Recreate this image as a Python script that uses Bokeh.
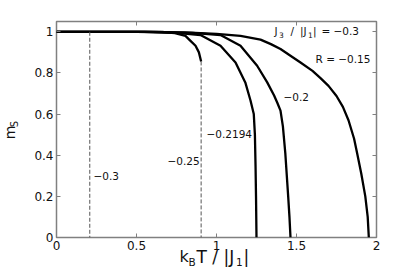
import math
from bokeh.plotting import figure
from bokeh.models import Range1d, Label, LinearAxis, FixedTicker
from bokeh.embed import file_html
from bokeh.resources import INLINE

# ---- data ----
x_tick_vals = [0, 0.5, 1, 1.5, 2]
x_tick_labels = ["0", "0.5", "1", "1.5", "2"]
y_tick_vals = [0, 0.2, 0.4, 0.6, 0.8, 1]
y_tick_labels = ["0", "0.2", "0.4", "0.6", "0.8", "1"]

# R = -0.15
t_015 = [0, 0.5, 0.8, 1.0, 1.15, 1.275, 1.34, 1.4, 1.46, 1.525, 1.6, 1.65, 1.7, 1.75, 1.79, 1.825, 1.86, 1.879, 1.905, 1.93, 1.945, 1.952]
m_015 = [1, 1, 0.997, 0.99, 0.98, 0.962, 0.94, 0.916, 0.885, 0.851, 0.81, 0.775, 0.737, 0.688, 0.635, 0.57, 0.48, 0.41, 0.31, 0.2, 0.1, 0]
# R = -0.2
t_020 = [0, 0.6, 0.85, 1.025, 1.15, 1.254, 1.317, 1.36, 1.38, 1.40, 1.415, 1.43, 1.448, 1.456, 1.4625]
m_020 = [1, 1, 0.995, 0.984, 0.932, 0.835, 0.754, 0.69, 0.655, 0.617, 0.54, 0.41, 0.2, 0.1, 0]
# R = -0.2194
t_02194 = [0, 0.55, 0.75, 0.9, 1.025, 1.119, 1.18, 1.2125, 1.233, 1.24, 1.244, 1.247, 1.25]
m_02194 = [1, 1, 0.995, 0.984, 0.932, 0.851, 0.754, 0.666, 0.6, 0.5, 0.35, 0.2, 0]
# R = -0.25 (first-order jump)
t_025 = [0, 0.5, 0.66, 0.74, 0.806, 0.8375, 0.869, 0.89, 0.904]
m_025 = [1, 1, 0.999, 0.993, 0.98, 0.956, 0.932, 0.9, 0.856]
# jumps (dashed)
jump_025_t = [0.904, 0.904]
jump_025_m = [0.856, 0]
jump_030_t = [0.208, 0.208]
jump_030_m = [1, 0]

labels_R = ["\u22120.3", "\u22120.25", "\u22120.2194", "\u22120.2", "R = \u22120.15"]

# ---- figure (page renders at 0,0) ----
W, H = 415, 273
FL, FR, FT, FB = 56, 376, 21, 237   # frame edges in page pixels
p = figure(width=W, height=H, output_backend="svg", toolbar_location=None,
           x_range=Range1d(0, 2), y_range=Range1d(0, 1.05),
           min_border_left=FL, min_border_right=W - FR, min_border_top=FT, min_border_bottom=H - FB,
           x_axis_location=None, y_axis_location=None)
p.grid.visible = False
p.outline_line_color = "#808080"
p.outline_line_width = 1.5
p.background_fill_color = "white"
p.border_fill_color = "white"

FONT = "DejaVu Sans"

def mk_axis(vals, labels, show):
    ax = LinearAxis(ticker=FixedTicker(ticks=vals))
    ax.major_label_overrides = {v: s for v, s in zip(vals, labels)}
    ax.axis_line_color = None
    ax.major_tick_in = 4
    ax.major_tick_out = 0
    ax.major_tick_line_color = "#808080"
    ax.minor_tick_line_color = None
    ax.major_label_text_font = FONT
    if show:
        ax.major_label_text_font_size = "12px"
        ax.major_label_text_color = "#111111"
        ax.major_label_standoff = 3
    else:
        ax.major_label_text_font_size = "1px"
        ax.major_label_text_color = None
        ax.major_label_standoff = 0
    return ax

p.add_layout(mk_axis(x_tick_vals, x_tick_labels, True), "below")
p.add_layout(mk_axis(y_tick_vals, y_tick_labels, True), "left")
p.add_layout(mk_axis(x_tick_vals, x_tick_labels, False), "above")
p.add_layout(mk_axis(y_tick_vals, y_tick_labels, False), "right")

# curves
for t, m in [(t_015, m_015), (t_020, m_020), (t_02194, m_02194), (t_025, m_025)]:
    p.line(t, m, line_color="black", line_width=2.3, line_join="round")
p.line(jump_025_t, jump_025_m, line_color="#555555", line_width=1, line_dash="4 2")
p.line(jump_030_t, jump_030_m, line_color="#555555", line_width=1, line_dash="4 2")

# pixel helpers (page pixel -> data)
def X(px):
    return (px - FL) / ((FR - FL) / 2.0)
def Y(py):
    return (FB - py) / ((FB - FT) / 1.05)

def lab(px, py, text, size, angle=0, align="left", where=None):
    l = Label(x=X(px), y=Y(py), text=text, text_font=FONT, text_font_size=size,
              text_baseline="middle", text_align=align, angle=angle,
              text_color="#111111")
    if where is None:
        p.add_layout(l)
    else:
        p.add_layout(l, where)

# curve annotations (inside the frame)
lab(93, 175.5, labels_R[0], "10.5px")
lab(167, 160.5, labels_R[1], "10.5px")
lab(206, 133, labels_R[2], "10.5px")
lab(283, 96.5, labels_R[3], "10.5px")
lab(315, 58, labels_R[4], "10.5px")

# J3/|J1| = -0.3
lab(274, 30, "J", "10.5px")
lab(278.5, 34, "3", "7.5px")
lab(290, 30, "/", "10.5px")
lab(299.5, 30, "|J", "10.5px")
lab(307.5, 34, "1", "7.5px")
lab(312.5, 30, "|", "10.5px")
lab(321, 30, "=", "10.5px")
lab(333, 30, "\u22120.3", "10.5px")

# x axis label: pieces spread over side panels so they are not clipped
lab(179, 256, "k", "16px", where="below")
lab(196, 256, "T / |J", "17px", where="above")
lab(188, 261.5, "B", "10.5px", where="right")
lab(235.5, 261.5, "1", "10.5px", where="right")
lab(243, 256, "|", "17px", where="right")

# y axis label
lab(9, 132, "m", "14px", angle=math.pi / 2, align="center", where="left")
lab(14, 123.5, "S", "10px", angle=math.pi / 2, align="center", where="left")

open("out.html", "w").write(file_html(p, INLINE))
